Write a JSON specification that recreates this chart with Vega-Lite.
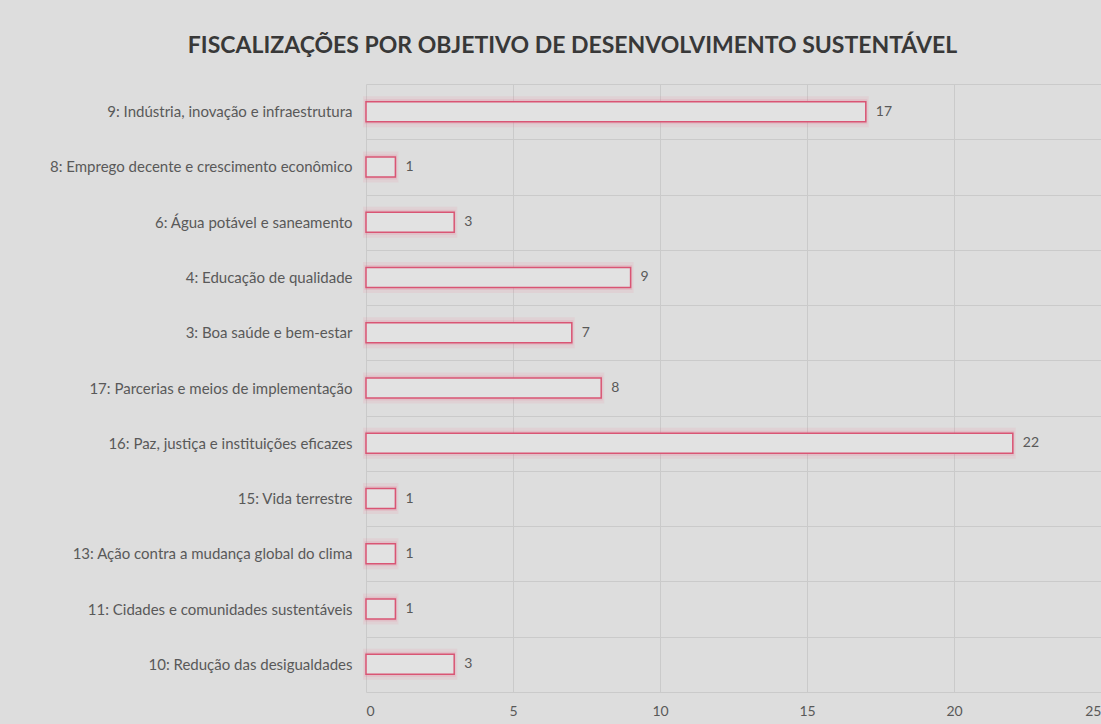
{
  "$schema": "https://vega.github.io/schema/vega-lite/v6.json",
  "autosize": {"type": "none"},
  "width": 735,
  "height": 608,
  "padding": {"left": 366, "top": 84, "right": 0, "bottom": 32},
  "background": "#dddddd",
  "title": {
    "text": "FISCALIZAÇÕES POR OBJETIVO DE DESENVOLVIMENTO  SUSTENTÁVEL",
    "font": "Lato",
    "fontSize": 23,
    "fontWeight": "bold",
    "color": "#383838",
    "anchor": "middle",
    "frame": "group",
    "dx": -161,
    "offset": 19
  },
  "data": {
    "values": [
      {"ods": "9: Indústria, inovação e infraestrutura", "n": 17},
      {"ods": "8: Emprego decente e crescimento econômico", "n": 1},
      {"ods": "6: Água potável e saneamento", "n": 3},
      {"ods": "4: Educação de qualidade", "n": 9},
      {"ods": "3: Boa saúde e bem-estar", "n": 7},
      {"ods": "17: Parcerias e meios de implementação", "n": 8},
      {"ods": "16: Paz, justiça e instituições eficazes", "n": 22},
      {"ods": "15: Vida terrestre", "n": 1},
      {"ods": "13: Ação contra a mudança global do clima", "n": 1},
      {"ods": "11: Cidades e comunidades sustentáveis", "n": 1},
      {"ods": "10: Redução das desigualdades", "n": 3}
    ]
  },
  "encoding": {
    "y": {
      "field": "ods",
      "type": "nominal",
      "sort": null,
      "scale": {"paddingInner": 0, "paddingOuter": 0},
      "axis": {
        "title": null,
        "domain": false,
        "ticks": false,
        "grid": true,
        "tickBand": "extent",
        "gridColor": "#cacaca",
        "gridWidth": 1,
        "labelFont": "Lato",
        "labelFontSize": 15,
        "labelColor": "#595959",
        "labelPadding": 14,
        "labelLimit": 400
      }
    },
    "x": {
      "field": "n",
      "type": "quantitative",
      "scale": {"domain": [0, 25], "nice": false},
      "axis": {
        "title": null,
        "domain": false,
        "ticks": false,
        "grid": true,
        "values": [0, 5, 10, 15, 20, 25],
        "gridColor": "#cacaca",
        "gridWidth": 1,
        "labelFont": "Lato",
        "labelFontSize": 14,
        "labelColor": "#595959",
        "labelPadding": 12
      }
    }
  },
  "layer": [
    {
      "mark": {"type": "bar", "size": 25, "fill": null, "fillOpacity": 0, "stroke": "#ec7a94", "strokeWidth": 6, "strokeOpacity": 0.12}
    },
    {
      "mark": {"type": "bar", "size": 22, "fill": null, "fillOpacity": 0, "stroke": "#ec7a94", "strokeWidth": 3, "strokeOpacity": 0.2}
    },
    {
      "mark": {"type": "bar", "size": 20, "fill": "#e2e2e2", "stroke": "#d95574", "strokeWidth": 1.5}
    },
    {
      "mark": {"type": "text", "align": "left", "baseline": "middle", "dx": 10, "font": "Lato", "fontSize": 14, "color": "#595959"},
      "encoding": {"text": {"field": "n", "type": "quantitative"}}
    }
  ],
  "config": {"view": {"stroke": null}}
}
